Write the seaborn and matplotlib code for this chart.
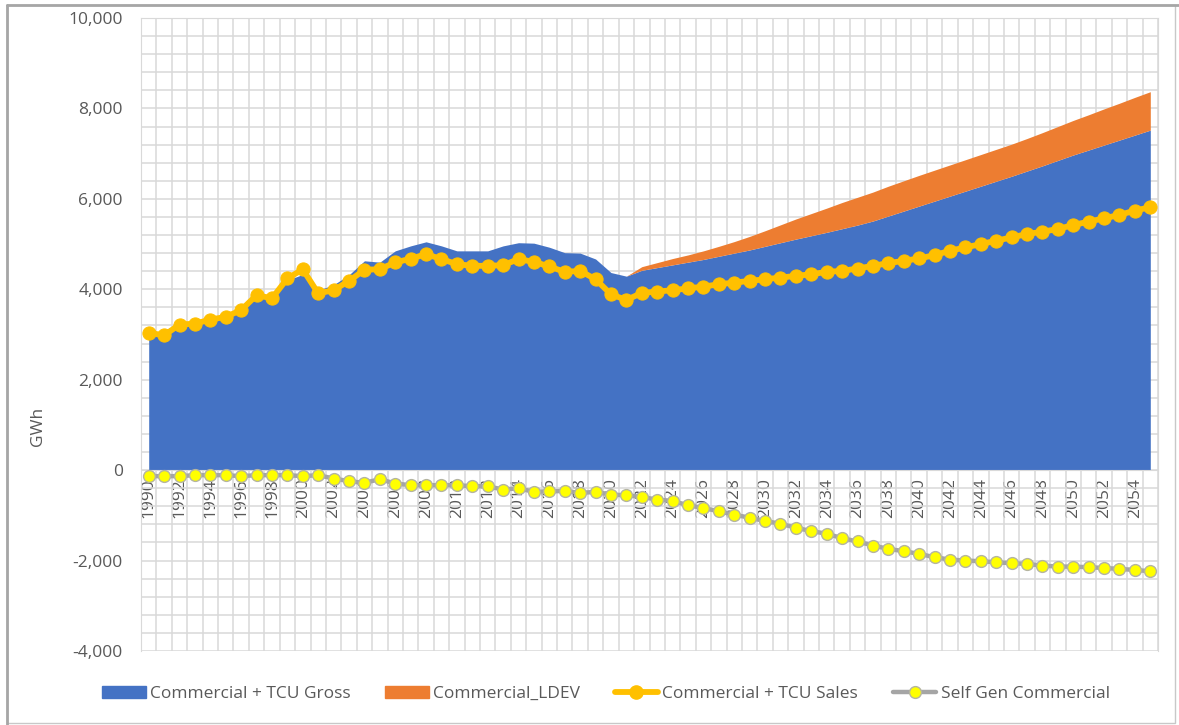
import numpy as np
import pandas as pd
import matplotlib
matplotlib.use("Agg")
import matplotlib.pyplot as plt
import seaborn as sns
from matplotlib.patches import Patch, Rectangle
from matplotlib.lines import Line2D
from matplotlib.ticker import FuncFormatter, MultipleLocator

# ---------------- data ----------------
years = list(range(1990, 2056))

gross = [2950, 3100, 3230, 3280, 3360, 3420, 3570, 3830, 3850, 4200,
         4330, 3980, 4100, 4320, 4630, 4600, 4850, 4960, 5050, 4960,
         4850, 4850, 4850, 4960, 5030, 5020, 4930, 4810, 4800, 4670,
         4370, 4290, 4420, 4480, 4540, 4600, 4660, 4730, 4800, 4870,
         4950, 5030, 5110, 5185, 5260, 5340, 5420, 5510, 5620, 5730,
         5840, 5950, 6060, 6170, 6280, 6390, 6500, 6615, 6730, 6850,
         6970, 7080, 7190, 7300, 7410, 7520]

ldev = [0] * 31 + [0, 80, 110, 140, 160, 190, 220, 255, 300,
                   345, 395, 445, 490, 535, 580, 615, 640, 660, 670,
                   680, 685, 690, 695, 700, 705, 710, 720, 735, 750,
                   765, 780, 800, 815, 835, 850]

sales = [3040, 2980, 3220, 3240, 3330, 3390, 3540, 3870, 3800, 4240,
         4440, 3910, 3980, 4185, 4430, 4445, 4595, 4675, 4778, 4667,
         4556, 4519, 4519, 4533, 4667, 4607, 4504, 4385, 4407, 4222,
         3889, 3763, 3920, 3950, 3980, 4020, 4059, 4111, 4148, 4185,
         4222, 4259, 4296, 4333, 4385, 4407, 4459, 4519, 4578, 4630,
         4681, 4756, 4852, 4926, 5000, 5074, 5148, 5222, 5274, 5333,
         5422, 5496, 5570, 5644, 5741, 5815]

selfgen = [-133, -133, -133, -111, -111, -111, -133, -111, -111, -111,
           -133, -111, -185, -244, -281, -200, -296, -333, -333, -333,
           -333, -356, -356, -430, -400, -481, -470, -459, -504, -481,
           -541, -556, -593, -652, -681, -778, -837, -911, -985, -1052,
           -1126, -1185, -1274, -1348, -1407, -1504, -1578, -1667, -1741, -1793,
           -1852, -1926, -1978, -2000, -2015, -2037, -2059, -2074, -2111, -2133,
           -2133, -2148, -2163, -2185, -2207, -2237]

series_names = ["Commercial + TCU Gross", "Commercial_LDEV",
                "Commercial + TCU Sales", "Self Gen Commercial"]
y_label = "GWh"

# ---------------- style ----------------
sns.set_style("white")
plt.rcParams["font.family"] = ["Open Sans", "DejaVu Sans"]

BLUE = "#4472C4"
ORANGE = "#ED7D31"
GOLD = "#FFC000"
GRAY = "#A5A5A5"
YELLOW = "#FFFF00"
GRID = "#D9D9D9"
TXT = "#595959"

df = pd.DataFrame({"year": years, "gross": gross, "ldev": ldev,
                   "sales": sales, "selfgen": selfgen})

fig = plt.figure(figsize=(11.79, 7.25), dpi=100)
ax = fig.add_axes([141 / 1179, 1 - 651 / 725, (1158 - 141) / 1179, (651 - 18) / 725])

ax.stackplot(df["year"], df["gross"], df["ldev"], colors=[BLUE, ORANGE],
             linewidth=0, zorder=2)

sns.lineplot(data=df, x="year", y="sales", ax=ax, color=GOLD, linewidth=4.2,
             marker="o", markersize=9.5, markerfacecolor=GOLD,
             markeredgecolor=GOLD, zorder=4, legend=False)
sns.lineplot(data=df, x="year", y="selfgen", ax=ax, color=GRAY, linewidth=3.2,
             marker="o", markersize=8.5, markerfacecolor=YELLOW,
             markeredgecolor="#B5B5A0", markeredgewidth=1.0, zorder=4,
             legend=False)

ax.set_xlim(1989.5, 2055.5)
ax.set_ylim(-4000, 10000)

# y axis
ax.yaxis.set_major_locator(MultipleLocator(2000))
ax.yaxis.set_minor_locator(MultipleLocator(400))
ax.yaxis.set_major_formatter(FuncFormatter(lambda v, p: f"{int(round(v)):,}"))
ax.tick_params(axis="y", which="both", length=0, pad=13, labelsize=12.5,
               labelcolor=TXT)

# x axis: labels every other year, sitting on the zero line
ax.set_xticks(years[::2])
ax.set_xticklabels([str(y) for y in years[::2]])
ax.set_xticks(np.arange(1989.5, 2056, 1.0), minor=True)
ax.tick_params(axis="x", which="both", length=0, pad=6, labelsize=12.5,
               labelcolor=TXT, labelrotation=90)
ax.spines["bottom"].set_position(("data", 0))
for lab in ax.get_xticklabels():
    lab.set_rotation(90)
    lab.set_horizontalalignment("center")
    lab.set_verticalalignment("top")

ax.set_axisbelow(True)
ax.grid(False)
ax.grid(True, axis="y", which="both", color=GRID, linewidth=1.1, zorder=0)
ax.grid(True, axis="x", which="minor", color=GRID, linewidth=1.1, zorder=0)
ax.grid(False, axis="x", which="major")
for s in ["left", "right", "top", "bottom"]:
    ax.spines[s].set_visible(True)
    ax.spines[s].set_color(GRID)

ax.set_xlabel("")
ax.set_ylabel(y_label, fontsize=12.5, color=TXT)
ax.yaxis.set_label_coords(-0.093, 0.355)

# legend
handles = [
    Patch(facecolor=BLUE, edgecolor=BLUE),
    Patch(facecolor=ORANGE, edgecolor=ORANGE),
    Line2D([0], [0], color=GOLD, linewidth=4.2, marker="o", markersize=9.5,
           markerfacecolor=GOLD, markeredgecolor=GOLD),
    Line2D([0], [0], color=GRAY, linewidth=3.2, marker="o", markersize=8.5,
           markerfacecolor=YELLOW, markeredgecolor="#B5B5A0"),
]
leg = fig.legend(handles, series_names, loc="center", ncol=4,
                 bbox_to_anchor=(606 / 1179, 1 - 694 / 725), frameon=False,
                 fontsize=12.5, handlelength=2.5, handleheight=0.7,
                 handletextpad=0.25, columnspacing=2.0)
for t in leg.get_texts():
    t.set_color(TXT)

# outer chart frame
fig.patches.append(Rectangle((7 / 1179, 2 / 725), 1168 / 1179, 718 / 725,
                             transform=fig.transFigure, fill=False,
                             edgecolor="#C8C8C8", linewidth=1.0))
fig.add_artist(Line2D([7 / 1179, 7 / 1179], [0, 1 - 5 / 725],
                      transform=fig.transFigure, color="#A6A6A6", linewidth=2))
fig.add_artist(Line2D([7 / 1179, 1], [1 - 5 / 725, 1 - 5 / 725],
                      transform=fig.transFigure, color="#A6A6A6", linewidth=2))

fig.savefig("out.png", dpi=100, facecolor="white")
